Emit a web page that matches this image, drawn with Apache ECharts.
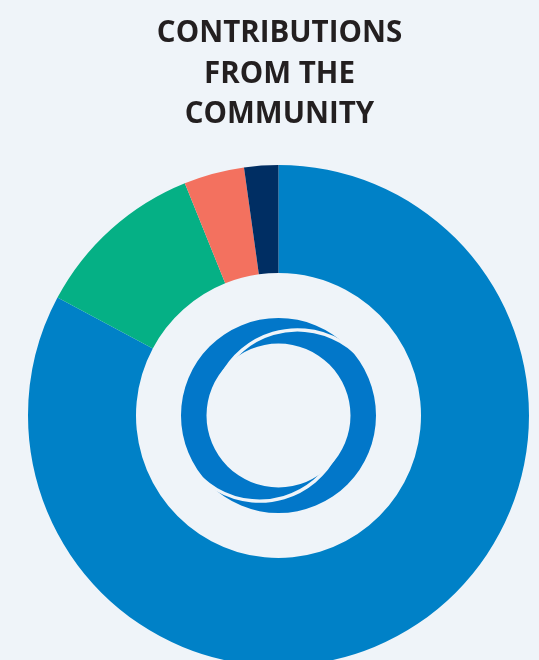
<!DOCTYPE html>
<html>
<head>
<meta charset="utf-8">
<style>
  html, body { margin: 0; padding: 0; background: #EFF4F9; }
  #chart { width: 539px; height: 660px; }
</style>
<script src="https://cdn.jsdelivr.net/npm/echarts/dist/echarts.min.js"></script>
</head>
<body>
<div id="chart"></div>
<script>
// Data (percent of contributions)
const categories = ['Group A', 'Group B', 'Group C', 'Group D'];
const values = [82.8, 11.1, 3.9, 2.2];
const colors = ['#0081C7', '#05B085', '#F3715F', '#002E63'];
const titleText = 'CONTRIBUTIONS\nFROM THE\nCOMMUNITY';

const BG = '#EFF4F9';
const LOGO = '#0277C9';
const cx = 278.5, cy = 415.5;

const chart = echarts.init(document.getElementById('chart'), null, { renderer: 'canvas' });

const deg = Math.PI / 180;
const option = {
  backgroundColor: BG,
  animation: false,
  title: {
    text: titleText,
    left: 274.5,
    top: 8,
    textAlign: 'center',
    textStyle: {
      fontFamily: 'Open Sans',
      fontWeight: 'bold',
      fontSize: 29.5,
      lineHeight: 40.8,
      color: '#231F20'
    }
  },
  series: [{
    type: 'pie',
    center: [cx, cy],
    radius: [142.5, 250.5],
    startAngle: 90,
    clockwise: true,
    label: { show: false },
    labelLine: { show: false },
    emphasis: { disabled: true },
    itemStyle: { borderWidth: 0 },
    data: categories.map((n, i) => ({ name: n, value: values[i], itemStyle: { color: colors[i] } }))
  }],
  graphic: [
    {
      type: 'ring',
      shape: { cx: cx, cy: cy, r: 97.5, r0: 72 },
      style: { fill: LOGO },
      z: 10
    },
    {
      type: 'arc',
      shape: { cx: cx + 19, cy: cy, r: 85.6, startAngle: -175 * deg, endAngle: -35 * deg, clockwise: true },
      style: { stroke: BG, lineWidth: 3.4, fill: null },
      z: 11
    },
    {
      type: 'arc',
      shape: { cx: cx - 19, cy: cy, r: 85.6, startAngle: 5 * deg, endAngle: 145 * deg, clockwise: true },
      style: { stroke: BG, lineWidth: 3.4, fill: null },
      z: 11
    }
  ]
};
chart.setOption(option);
</script>
</body>
</html>
